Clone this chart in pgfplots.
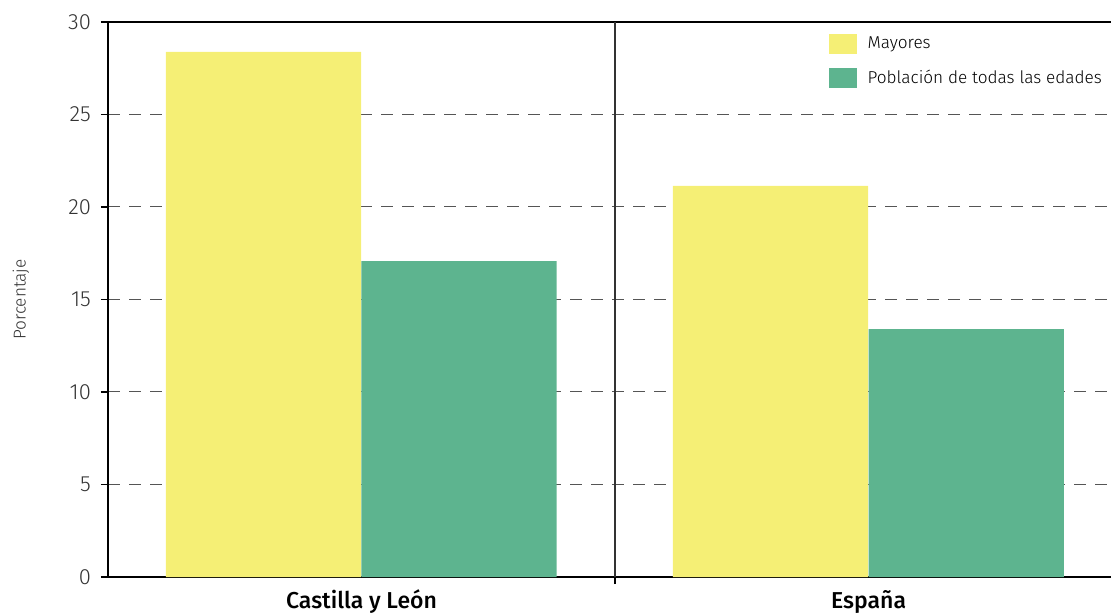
\documentclass[border=0pt]{standalone}
\usepackage{fontspec}
\setmainfont{Fira Sans Light}[BoldFont={Fira Sans Medium}]
\usepackage{pgfplots}
\pgfplotsset{compat=1.18}
\definecolor{mayores}{RGB}{245,239,117}
\definecolor{poblacion}{RGB}{93,180,143}
\definecolor{gridgray}{RGB}{85,85,85}
\begin{document}
\begin{tikzpicture}
\begin{axis}[
  at={(0,0)}, anchor=south west,
  scale only axis,
  width=501.5pt, height=277.5pt,
  xmin=-0.5, xmax=1.478,
  ymin=0, ymax=30,
  axis x line*=bottom, axis y line*=left,
  axis line style={line width=0.7pt, -},
  ytick={0,5,...,30},
  xtick={0.5}, xticklabels={},
  extra x ticks={0,1},
  extra x tick labels={Castilla y León, España},
  extra x tick style={major tick length=0pt, tick label style={font=\bfseries\fontsize{11.5}{13}\selectfont, yshift=-3pt}},
  tick align=outside,
  major tick length=3.5pt,
  tick style={black, line width=0.6pt},
  ymajorgrids,
  grid style={gridgray, line width=0.5pt, dash pattern=on 6pt off 4.5pt},
  yticklabel style={font=\fontsize{11}{12}\selectfont, text=black!80, xshift=-1.5pt},
  /pgf/number format/assume math mode=true,
  ylabel={Porcentaje},
  every axis y label/.style={at={(rel axis cs:0,0.5)}, xshift=-43.5pt, rotate=90, anchor=center,
    font=\fontsize{8.6}{10}\selectfont, text=black!80},
  ybar, bar width=0.385,
  legend style={at={(0.712,0.988)}, anchor=north west, draw=none, fill=none,
    font=\fontsize{8.6}{10}\selectfont, row sep=5pt},
  legend cell align=left,
  legend image code/.code={\fill[#1] (0pt,-5pt) rectangle (14pt,5pt); \path (17.5pt,0pt);},
]
\addplot[draw=none, fill=mayores, bar shift=0pt] coordinates {(-0.1933,28.38) (0.8067,21.14)};
\addlegendentry{Mayores}
\addplot[draw=none, fill=poblacion, bar shift=0pt] coordinates {(0.1923,17.08) (1.1923,13.40)};
\addlegendentry{Población de todas las edades}
\draw[black, line width=0.7pt] (rel axis cs:0,1) -- (rel axis cs:1,1);
\draw[black!80, line width=0.8pt] (axis cs:0.5,0) -- (axis cs:0.5,30);
\end{axis}
\pgfresetboundingbox
\path[use as bounding box] (-54pt,-18.5pt) rectangle (501.5pt,288.5pt);
\end{tikzpicture}
\end{document}
